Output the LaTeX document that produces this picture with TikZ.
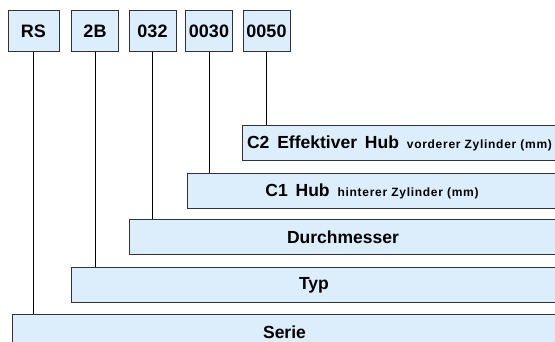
\documentclass[tikz,border=0pt]{standalone}
\usepackage{fontspec}
\setmainfont{Liberation Sans}
\usetikzlibrary{positioning,backgrounds}
\definecolor{BoxFill}{HTML}{DCEEFC}
\definecolor{BoxLine}{HTML}{333333}
\tikzset{
  codebox/.style={draw=BoxLine,fill=BoxFill,line width=1pt,minimum height=41pt,
    minimum width=47pt,inner sep=0pt,font=\fontsize{18}{20}\selectfont\bfseries},
  barbox/.style={draw=BoxLine,fill=BoxFill,line width=1pt,minimum height=35pt,
    inner sep=0pt,anchor=north west,font=\fontsize{17.5}{20}\selectfont\bfseries},
  conn/.style={draw=black,line width=0.9pt}
}
\newcommand{\smalltxt}[1]{{\fontsize{12}{14}\selectfont\addfontfeature{LetterSpace=6}#1}}
\begin{document}
\begin{tikzpicture}[x=1pt,y=-1pt]
    \useasboundingbox (0,0) rectangle (555,342);
    \def\R{556}
    % code boxes
    \node[codebox,minimum width=51pt] (rs) at (33.5,31.5) {RS};
    \node[codebox] (typ) at (95,31.5) {2B};
    \node[codebox] (dm) at (152.5,31.5) {032};
    \node[codebox] (ca) at (209,31.5) {0030};
    \node[codebox] (cb) at (266.5,31.5) {0050};

    % bars
    \node[barbox,minimum width={\R-242}] (cbbar) at (242,125)
      {C2\hspace{0.45em}Effektiver\hspace{0.45em}Hub\hspace{0.45em}\smalltxt{vorderer Zylinder (mm)}};
    \node[barbox,minimum width={\R-187}] (cabar) at (187,173)
      {C1\hspace{0.45em}Hub\hspace{0.45em}\smalltxt{hinterer Zylinder (mm)}};
    \node[barbox,minimum width={\R-129}] (dmbar) at (129,219) {Durchmesser};
    \node[barbox,minimum width={\R-71}] (typbar) at (71,267) {Typ};
    \node[barbox,minimum width={\R-12}] (rsbar) at (12,314) {Serie};

    % connectors
    \begin{scope}[on background layer]
      \foreach \src/\dst in {rs/rsbar,typ/typbar,dm/dmbar,ca/cabar,cb/cbbar}{
        \draw[conn] ([yshift=-2pt]\src.north) -- (\src.north |- \dst.north);
      }
    \end{scope}
\end{tikzpicture}
\end{document}
